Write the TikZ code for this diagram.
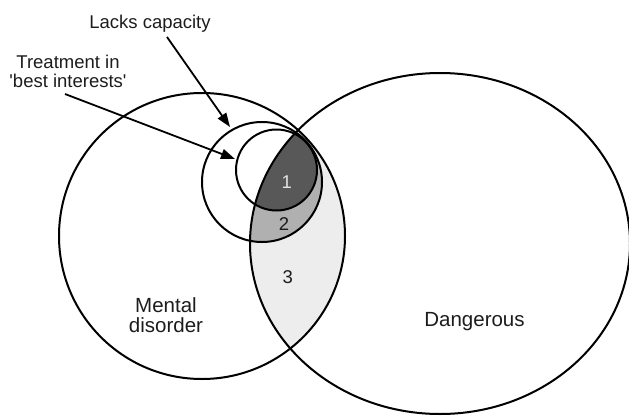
\documentclass[tikz,border=0pt]{standalone}
\usepackage{fontspec}
\setmainfont{Liberation Sans}[Ligatures=TeXOff]
\usetikzlibrary{arrows.meta}
\definecolor{regionone}{RGB}{88,88,88}
\definecolor{regiontwo}{RGB}{176,176,176}
\definecolor{regionthree}{RGB}{237,237,237}
\definecolor{inkgray}{RGB}{28,28,28}
\definecolor{onegray}{RGB}{228,228,228}
\begin{document}
\begin{tikzpicture}[x=1pt,y=-1pt,
  outline/.style={draw=black,line width=2pt},
  pointer/.style={draw=black,line width=1.8pt,-{Triangle[length=14pt,width=10pt]}},
  callout/.style={font=\fontsize{18.5}{19}\selectfont,align=center,inner sep=0pt,text=inkgray},
  regionlbl/.style={font=\fontsize{20.5}{19.5}\selectfont,align=center,inner sep=0pt,text=inkgray},
  numlbl/.style={font=\fontsize{18.5}{20}\selectfont,inner sep=0pt}]
\useasboundingbox (0,0) rectangle (629,415);
% centres
\coordinate (mdc) at (202,236);
\coordinate (dgc) at (440,243.5);
\coordinate (lcc) at (262,182);
\coordinate (tbc) at (276.5,170);
% shaded regions
\begin{scope}
  \clip (dgc) ellipse [x radius=190, y radius=170.5];
  \fill[regionthree] (mdc) circle [radius=143];
  \fill[regiontwo] (lcc) circle [radius=60];
  \fill[regionone] (tbc) circle [radius=40.5];
\end{scope}
% outlines
\draw[outline] (mdc) circle [radius=143];
\draw[outline] (dgc) ellipse [x radius=190, y radius=170.5];
\draw[outline] (lcc) circle [radius=60];
\draw[outline] (tbc) circle [radius=40.5];
% labels (base anchor = baseline of last line)
\node[callout,anchor=base] (lacklbl) at (150,28.5) {Lacks capacity};
\node[callout,anchor=base] (treatlbl) at (68,87) {Treatment in\\'best interests'};
\node[regionlbl,anchor=base] (mentallbl) at (166,332) {Mental\\disorder};
\node[regionlbl,anchor=base] (danglbl) at (474.5,326) {Dangerous};
\node[numlbl,text=onegray] (one) at (286.7,181.7) {1};
\node[numlbl,text=inkgray] (two) at (284,224) {2};
\node[numlbl,text=inkgray] (three) at (287.7,277) {3};
% arrows
\coordinate (lackstart) at (167,37);
\coordinate (lacktip) at (230,127);
\coordinate (treatstart) at (65,94);
\coordinate (treattip) at (235,159);
\draw[pointer] (lackstart) -- (lacktip);
\draw[pointer] (treatstart) -- (treattip);
\end{tikzpicture}
\end{document}
